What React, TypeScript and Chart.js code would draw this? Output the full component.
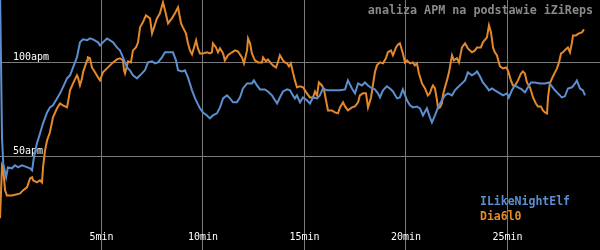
import React, { useEffect, useRef } from "react";
import { Chart, registerables } from "chart.js";

Chart.register(...registerables);

const titleText = "analiza APM na podstawie iZiReps";
const seriesNames = ["ILikeNightElf", "Dia6l0"];
const seriesColors = ["#5b8fcf", "#e4892b"];
const xTickMinutes = [5, 10, 15, 20, 25];
const yTickApm = [50, 100];
const xMaxMinutes = 29.56;
const yMaxApm = 133.4;

const elfMinutes = [0, 0.1, 0.16, 0.3, 0.39, 0.59, 0.74, 0.89, 1.08, 1.23, 1.48, 1.58, 1.67, 1.82, 1.97, 2.12, 2.32, 2.46, 2.61, 2.81, 2.96, 3.1, 3.3, 3.45, 3.6, 3.79, 3.94, 4.09, 4.29, 4.43, 4.58, 4.83, 4.93, 5.07, 5.27, 5.42, 5.57, 5.76, 5.91, 6.06, 6.26, 6.4, 6.55, 6.75, 6.9, 7.14, 7.29, 7.49, 7.64, 7.78, 7.98, 8.13, 8.28, 8.52, 8.67, 8.77, 8.97, 9.11, 9.26, 9.46, 9.61, 9.85, 10.0, 10.2, 10.34, 10.49, 10.69, 10.84, 10.99, 11.18, 11.33, 11.48, 11.67, 11.82, 11.97, 12.17, 12.41, 12.51, 12.66, 12.81, 13.05, 13.2, 13.4, 13.55, 13.65, 13.79, 13.94, 14.14, 14.29, 14.43, 14.53, 14.63, 14.78, 14.93, 15.12, 15.27, 15.42, 15.62, 15.76, 15.91, 16.11, 16.4, 16.75, 17.0, 17.14, 17.34, 17.49, 17.64, 17.83, 17.98, 18.13, 18.33, 18.47, 18.62, 18.72, 18.87, 19.06, 19.21, 19.36, 19.56, 19.7, 19.85, 20.05, 20.2, 20.34, 20.54, 20.69, 20.84, 21.03, 21.18, 21.28, 21.43, 21.58, 21.77, 21.92, 22.07, 22.27, 22.41, 22.56, 22.76, 22.91, 23.05, 23.25, 23.4, 23.5, 23.65, 23.79, 23.99, 24.09, 24.24, 24.38, 24.63, 24.78, 24.98, 25.07, 25.22, 25.37, 25.52, 25.71, 25.86, 26.01, 26.16, 26.35, 26.6, 26.85, 27.04, 27.19, 27.34, 27.49, 27.68, 27.83, 27.98, 28.18, 28.33, 28.42, 28.57, 28.72, 28.82];
const elfApm = [140, 59.6, 46.2, 38.8, 44.1, 43.6, 45.2, 44.1, 45.2, 44.6, 43.6, 42.5, 49.4, 56.9, 62.2, 67.6, 73.4, 76.1, 77.2, 80.9, 83.6, 86.8, 91.6, 93.2, 97.4, 102.8, 110.8, 112.4, 111.9, 112.9, 112.4, 110.8, 109.2, 110.8, 112.9, 111.9, 110.8, 108.1, 106.5, 102.8, 97.4, 95.9, 93.2, 91.6, 93.2, 95.9, 100.1, 100.7, 99.6, 100.1, 102.8, 105.5, 105.5, 105.5, 101.2, 95.9, 95.3, 95.9, 92.1, 85.2, 80.9, 75.6, 73.4, 71.8, 70.2, 71.8, 72.9, 76.1, 80.9, 82.5, 80.9, 78.8, 78.8, 81.4, 86.2, 88.9, 88.9, 90.5, 87.8, 85.7, 85.7, 84.6, 82.5, 79.9, 78.2, 81.4, 84.6, 85.7, 85.2, 82.5, 80.9, 82.5, 78.8, 81.4, 79.9, 78.2, 81.4, 80.9, 82.5, 86.2, 85.2, 85.2, 85.2, 85.7, 90.5, 86.2, 83.6, 88.9, 87.8, 89.4, 87.8, 86.2, 85.7, 83.6, 81.4, 85.2, 87.3, 86.2, 84.6, 80.9, 81.4, 85.7, 79.9, 77.2, 76.1, 76.6, 75.6, 71.8, 75.6, 70.8, 68.1, 71.8, 76.1, 79.9, 82.5, 83.6, 82.5, 85.2, 86.8, 88.9, 90.5, 94.8, 93.2, 94.2, 95.3, 92.6, 89.4, 86.8, 85.2, 86.2, 85.2, 83.6, 82.5, 83.6, 81.4, 85.2, 87.8, 86.8, 85.7, 84.1, 86.8, 89.4, 89.4, 88.9, 88.9, 89.4, 87.3, 85.2, 83.6, 81.4, 82.0, 86.2, 86.8, 88.9, 90.5, 86.2, 85.2, 82.5];

const diaMinutes = [0, 0.1, 0.15, 0.25, 0.34, 0.59, 0.84, 0.99, 1.13, 1.33, 1.48, 1.58, 1.63, 1.82, 1.97, 2.07, 2.12, 2.22, 2.32, 2.46, 2.61, 2.81, 2.96, 3.1, 3.3, 3.35, 3.45, 3.6, 3.79, 3.84, 3.94, 4.04, 4.09, 4.29, 4.33, 4.43, 4.53, 4.68, 4.83, 4.93, 5.07, 5.27, 5.42, 5.57, 5.76, 5.91, 6.06, 6.11, 6.16, 6.26, 6.31, 6.45, 6.55, 6.7, 6.8, 6.9, 7.04, 7.19, 7.39, 7.49, 7.59, 7.73, 7.88, 8.03, 8.13, 8.28, 8.47, 8.62, 8.77, 8.92, 9.01, 9.16, 9.26, 9.36, 9.46, 9.56, 9.66, 9.75, 9.85, 10.0, 10.2, 10.34, 10.44, 10.49, 10.64, 10.74, 10.84, 10.99, 11.08, 11.23, 11.43, 11.58, 11.72, 11.92, 12.02, 12.17, 12.22, 12.32, 12.41, 12.56, 12.71, 12.91, 12.96, 13.1, 13.2, 13.35, 13.45, 13.6, 13.69, 13.79, 13.94, 14.04, 14.14, 14.24, 14.33, 14.43, 14.53, 14.63, 14.78, 14.93, 15.12, 15.27, 15.42, 15.52, 15.62, 15.71, 15.86, 15.96, 16.06, 16.16, 16.35, 16.5, 16.65, 16.75, 16.9, 17.0, 17.14, 17.34, 17.49, 17.64, 17.73, 17.88, 18.03, 18.13, 18.28, 18.37, 18.47, 18.57, 18.72, 18.87, 19.01, 19.11, 19.26, 19.36, 19.51, 19.61, 19.7, 19.85, 19.95, 20.05, 20.2, 20.34, 20.44, 20.54, 20.64, 20.79, 20.94, 21.08, 21.18, 21.28, 21.33, 21.43, 21.53, 21.58, 21.67, 21.77, 21.82, 21.92, 22.02, 22.12, 22.27, 22.36, 22.51, 22.61, 22.76, 22.91, 23.05, 23.25, 23.4, 23.5, 23.69, 23.79, 23.99, 24.09, 24.19, 24.29, 24.38, 24.48, 24.63, 24.78, 24.93, 25.02, 25.17, 25.27, 25.37, 25.52, 25.67, 25.76, 25.86, 25.96, 26.11, 26.26, 26.4, 26.5, 26.65, 26.75, 26.85, 26.95, 27.0, 27.09, 27.24, 27.34, 27.44, 27.54, 27.64, 27.73, 27.88, 27.98, 28.08, 28.18, 28.23, 28.37, 28.52, 28.67, 28.77];
const diaApm = [16.9, 45.2, 44.1, 31.9, 29.1, 29.1, 29.7, 30.2, 31.8, 33.4, 38.2, 38.8, 37.2, 36.1, 37.2, 36.1, 44.1, 53.2, 58.5, 62.8, 70.8, 75.6, 78.2, 77.2, 76.1, 78.8, 85.2, 88.9, 93.2, 92.1, 87.8, 91.6, 94.8, 101.2, 102.8, 102.3, 97.4, 94.8, 92.1, 90.5, 94.8, 96.9, 98.5, 100.1, 101.7, 102.3, 101.2, 95.9, 94.2, 98.5, 100.7, 100.1, 106.5, 108.1, 110.8, 118.8, 121.5, 125.2, 123.6, 115.6, 118.8, 123.6, 126.3, 132.2, 127.9, 120.9, 123.6, 126.3, 129.5, 120.9, 118.8, 115.6, 110.3, 106.5, 104.4, 108.1, 111.9, 107.6, 104.9, 104.9, 105.5, 104.9, 105.5, 110.3, 108.1, 105.5, 107.6, 104.9, 101.2, 103.9, 105.5, 106.5, 106.0, 102.8, 99.6, 106.5, 112.9, 110.3, 104.9, 101.2, 100.1, 100.1, 102.8, 100.7, 101.7, 99.6, 98.5, 97.4, 100.1, 103.9, 101.2, 100.1, 99.6, 98.0, 99.6, 94.8, 90.5, 86.8, 87.3, 86.8, 83.6, 81.4, 81.4, 84.6, 82.5, 89.4, 87.8, 85.7, 79.9, 74.5, 74.5, 73.4, 72.9, 76.1, 78.8, 76.6, 74.5, 76.1, 76.6, 78.8, 82.5, 83.6, 83.6, 76.1, 81.4, 87.8, 94.8, 98.5, 100.1, 99.6, 102.3, 105.5, 106.5, 103.9, 108.1, 109.7, 110.3, 104.9, 100.1, 101.2, 99.6, 100.1, 98.5, 99.6, 94.2, 88.9, 86.2, 82.5, 83.6, 86.8, 87.8, 86.2, 79.9, 75.6, 76.1, 78.2, 82.5, 86.8, 90.5, 94.8, 103.9, 101.2, 102.3, 100.1, 108.1, 110.3, 107.6, 105.5, 106.5, 108.1, 108.1, 110.8, 113.5, 119.9, 116.1, 108.1, 105.5, 103.9, 98.0, 96.9, 97.4, 95.9, 90.5, 87.8, 87.8, 90.5, 94.2, 95.3, 94.2, 89.4, 86.8, 81.4, 78.2, 76.6, 76.6, 74.5, 73.4, 72.9, 81.4, 88.9, 92.6, 94.8, 96.9, 100.1, 104.9, 105.5, 107.1, 108.1, 105.5, 110.8, 114.5, 114.5, 115.6, 116.1, 117.7];

const toPoints = (xs: number[], ys: number[]) => xs.map((x, i) => ({ x, y: ys[i] }));

const zeroPadding = (scale: any) => {
  scale.paddingTop = 0;
  scale.paddingBottom = 0;
  scale.paddingLeft = 0;
  scale.paddingRight = 0;
};

export default function App() {
  const canvasRef = useRef<HTMLCanvasElement | null>(null);

  useEffect(() => {
    document.body.style.margin = "0";
    document.body.style.background = "#000";
    const canvas = canvasRef.current;
    if (!canvas) return;
    const chart = new Chart(canvas, {
      type: "line",
      data: {
        datasets: [
          {
            label: seriesNames[0],
            data: toPoints(elfMinutes, elfApm),
            borderColor: seriesColors[0],
            borderWidth: 2,
            pointRadius: 0,
            tension: 0,
          },
          {
            label: seriesNames[1],
            data: toPoints(diaMinutes, diaApm),
            borderColor: seriesColors[1],
            borderWidth: 2,
            pointRadius: 0,
            tension: 0,
          },
        ],
      },
      options: {
        animation: false,
        responsive: true,
        maintainAspectRatio: false,
        layout: { padding: 0 },
        plugins: { legend: { display: false }, title: { display: false }, tooltip: { enabled: false } },
        scales: {
          x: {
            type: "linear",
            min: 0,
            max: xMaxMinutes,
            afterBuildTicks: (scale: any) => {
              scale.ticks = xTickMinutes.map((v) => ({ value: v }));
            },
            afterFit: (scale: any) => {
              scale.height = 0;
              zeroPadding(scale);
            },
            border: { display: false },
            grid: { color: "#7a7a7a", lineWidth: 1, drawTicks: false },
            ticks: {
              mirror: true,
              padding: 7,
              maxRotation: 0,
              autoSkip: false,
              color: "#ffffff",
              font: { family: "DejaVu Sans Mono", size: 10 },
              callback: (v: any) => `${v}min`,
            },
          },
          y: {
            type: "linear",
            min: 0,
            max: yMaxApm,
            afterBuildTicks: (scale: any) => {
              scale.ticks = yTickApm.map((v) => ({ value: v }));
            },
            afterFit: (scale: any) => {
              scale.width = 0;
              zeroPadding(scale);
            },
            border: { display: false },
            grid: { color: "#7a7a7a", lineWidth: 1, drawTicks: false },
            ticks: {
              mirror: true,
              padding: 13,
              labelOffset: -5,
              autoSkip: false,
              color: "#ffffff",
              font: { family: "DejaVu Sans Mono", size: 10 },
              callback: (v: any) => `${v}apm`,
            },
          },
        },
      },
    } as any);
    return () => chart.destroy();
  }, []);

  return (
    <div style={{ position: "fixed", left: 0, top: 0, width: 600, height: 250, background: "#000" }}>
      <canvas ref={canvasRef} />
      <div
        style={{
          position: "absolute",
          right: 7,
          top: 3,
          color: "#8a8a8a",
          fontFamily: "DejaVu Sans Mono",
          fontWeight: "bold",
          fontSize: "11.7px",
          lineHeight: "14px",
          whiteSpace: "nowrap",
        }}
      >
        {titleText}
      </div>
      <div
        style={{
          position: "absolute",
          left: 480,
          top: 194,
          fontFamily: "DejaVu Sans Mono",
          fontWeight: "bold",
          fontSize: "11.5px",
          lineHeight: "15px",
          whiteSpace: "nowrap",
        }}
      >
        {seriesNames.map((n, i) => (
          <div key={n} style={{ color: seriesColors[i] }}>
            {n}
          </div>
        ))}
      </div>
    </div>
  );
}
